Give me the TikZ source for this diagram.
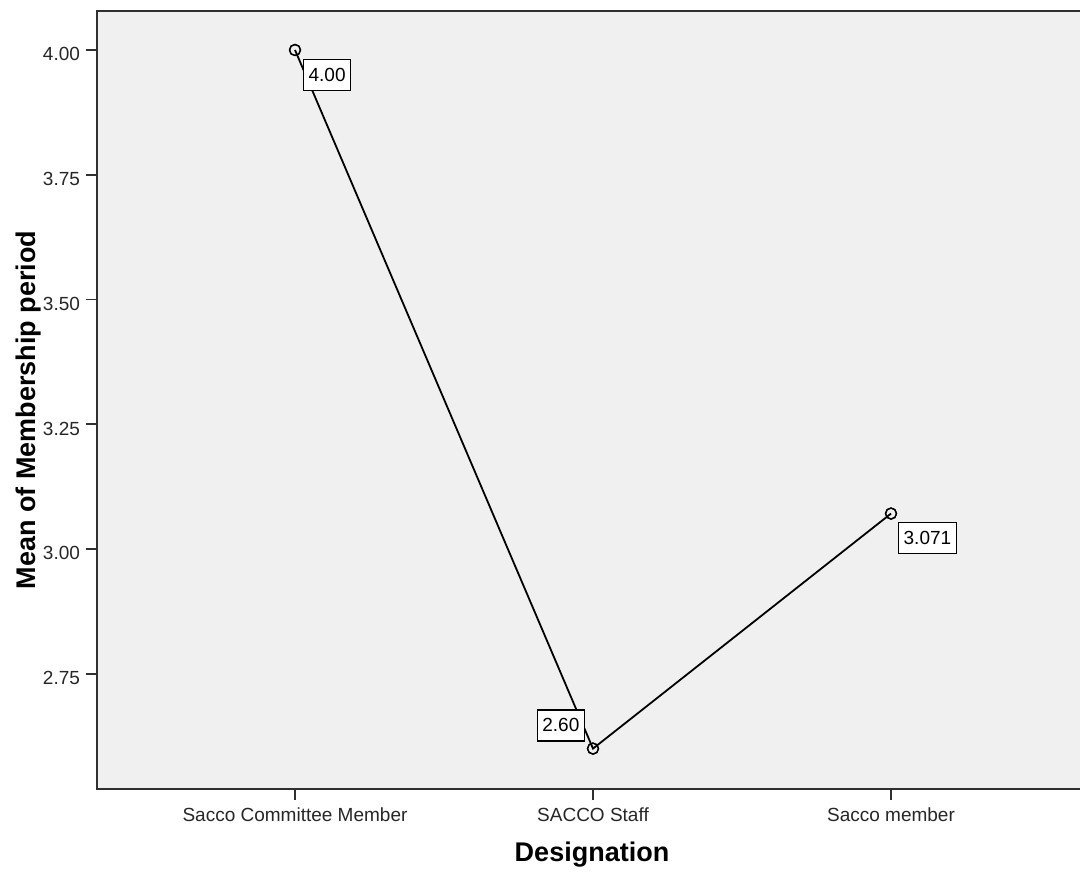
\documentclass[tikz,border=0pt]{standalone}
\usepackage{fontspec}
\setmainfont{Liberation Sans}
\usetikzlibrary{positioning}
\definecolor{plotbg}{HTML}{F0F0F0}
\definecolor{framegray}{HTML}{303030}
\tikzset{
  ticklabel/.style={font=\fontsize{19}{22}\selectfont, text=black!85},
  axistitle/.style={font=\fontsize{27}{30}\selectfont\bfseries},
  valuebox/.style={draw, fill=white, line width=1.3pt, inner xsep=5pt,
    minimum height=31pt, font=\fontsize{19}{22}\selectfont},
  meandot/.style={circle, draw, line width=1.3pt, minimum size=11pt, inner sep=0pt},
}

\begin{document}
\begin{tikzpicture}[x=1pt,y=1pt]
\useasboundingbox (0,0) rectangle (1080,873);
\fill[plotbg] (97,84) rectangle (1080,862);
\draw[framegray, line width=2pt] (1080,862) -- (97,862) -- (97,84) -- (1080,84);

% y axis: value v sits at 499v-1173
\foreach \v/\t in {2.75/2.75, 3/3.00, 3.25/3.25, 3.5/3.50, 3.75/3.75, 4/4.00} {
  \pgfmathsetmacro{\yy}{499*\v-1173}
  \draw[framegray, line width=1.6pt] (86,\yy) -- (97,\yy);
  \node[ticklabel, anchor=base east] at (83.5,\yy-11) {\t};
}

% categories
\foreach \xx in {295, 593, 891} {
  \draw[framegray, line width=1.6pt] (\xx,84) -- (\xx,73);
}
\node[ticklabel, anchor=base] (c1) at (295,51.5) {Sacco Committee Member};
\node[ticklabel, anchor=base] (c2) at (593,51.5) {SACCO Staff};
\node[ticklabel, anchor=base] (c3) at (891,51.5) {Sacco member};

\node[axistitle, anchor=base] (xt) at (592,11) {Designation};
\node[axistitle, anchor=base, rotate=90] (yt) at (36,463) {Mean of Membership period};

% means
\begin{scope}[x=298pt, y=499pt, shift={(-3pt,-1173pt)}]
  \node[meandot] (m1) at (1,4.00) {};
  \node[meandot] (m2) at (2,2.60) {};
  \node[meandot] (m3) at (3,3.071) {};
\end{scope}
\draw[line width=1.8pt] (m1.center) -- (m2.center) -- (m3.center);
\node[meandot] at (m1) {};
\node[meandot] at (m2) {};
\node[meandot] at (m3) {};

\node[valuebox, below right=9pt and 8pt of m1.center] (v1) {4.00};
\node[valuebox, above left=7pt and 8pt of m2.center] (v2) {2.60};
\node[valuebox, below right=8pt and 7pt of m3.center] (v3) {3.071};

\end{tikzpicture}
\end{document}
